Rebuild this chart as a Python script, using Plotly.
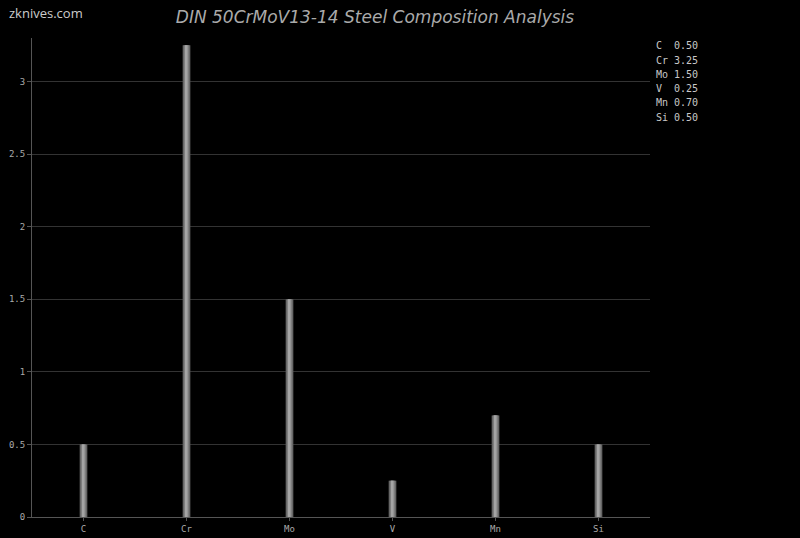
import plotly.graph_objects as go

elements = ["C", "Cr", "Mo", "V", "Mn", "Si"]
values = [0.50, 3.25, 1.50, 0.25, 0.70, 0.50]
title_text = "DIN 50CrMoV13-14 Steel Composition Analysis"

PLOT_LEFT, PLOT_RIGHT = 32, 650
PLOT_TOP, PLOT_BOTTOM = 38, 517
W, H = 800, 538


def px_x(px):
    return (px - PLOT_LEFT) / (PLOT_RIGHT - PLOT_LEFT)


def px_y(py):
    return (PLOT_BOTTOM - py) / (PLOT_BOTTOM - PLOT_TOP)


fig = go.Figure()
# layered bars to imitate a cylindrical gradient
layers = [(0.075, "#5e5e5e"), (0.056, "#767676"), (0.036, "#8e8e8e"), (0.016, "#a4a4a4")]
for w, c in layers:
    fig.add_trace(go.Bar(x=elements, y=values, width=w,
                         marker=dict(color=c, line=dict(width=0)),
                         showlegend=False))

legend_lines = [f"{e:<2} {v:.2f}" for e, v in zip(elements, values)]
for i, line in enumerate(legend_lines):
    fig.add_annotation(x=px_x(654), xref="paper", y=px_y(46 + i * 14.2), yref="paper",
                       text=line.replace(" ", "&nbsp;"), showarrow=False,
                       xanchor="left", yanchor="middle",
                       font=dict(family="DejaVu Sans Mono", size=10, color="#c8c8c8"))

fig.add_annotation(text="zknives.com", x=px_x(7), y=px_y(13), xref="paper", yref="paper",
                   showarrow=False, xanchor="left", yanchor="middle",
                   font=dict(family="Open Sans", size=13, color="#cccccc"))

fig.update_layout(
    width=W, height=H,
    paper_bgcolor="black", plot_bgcolor="black",
    barmode="overlay",
    margin=dict(l=PLOT_LEFT, r=W - PLOT_RIGHT, t=PLOT_TOP, b=H - PLOT_BOTTOM),
    title=dict(text=title_text, x=375 / W, xanchor="center", y=1 - 17 / H, yanchor="middle",
               font=dict(family="DejaVu Sans", size=17, color="#aaaaaa", style="italic")),
    xaxis=dict(type="category", showgrid=False, showline=True, linecolor="#555555", linewidth=1,
               ticks="outside", ticklen=3, tickcolor="#555555", automargin=False,
               tickfont=dict(family="DejaVu Sans Mono", size=9, color="#aaaaaa")),
    yaxis=dict(range=[0, 3.3], dtick=0.5, showgrid=True, gridcolor="#333333", gridwidth=1,
               showline=True, linecolor="#555555", linewidth=1, zeroline=False,
               ticks="outside", ticklen=4, tickcolor="#555555", automargin=False,
               tickfont=dict(family="DejaVu Sans Mono", size=9, color="#aaaaaa")),
    showlegend=False,
)

fig.write_html("out.html", config={"displayModeBar": False},
               post_script="document.body.style.margin='0';document.body.style.background='black';")
